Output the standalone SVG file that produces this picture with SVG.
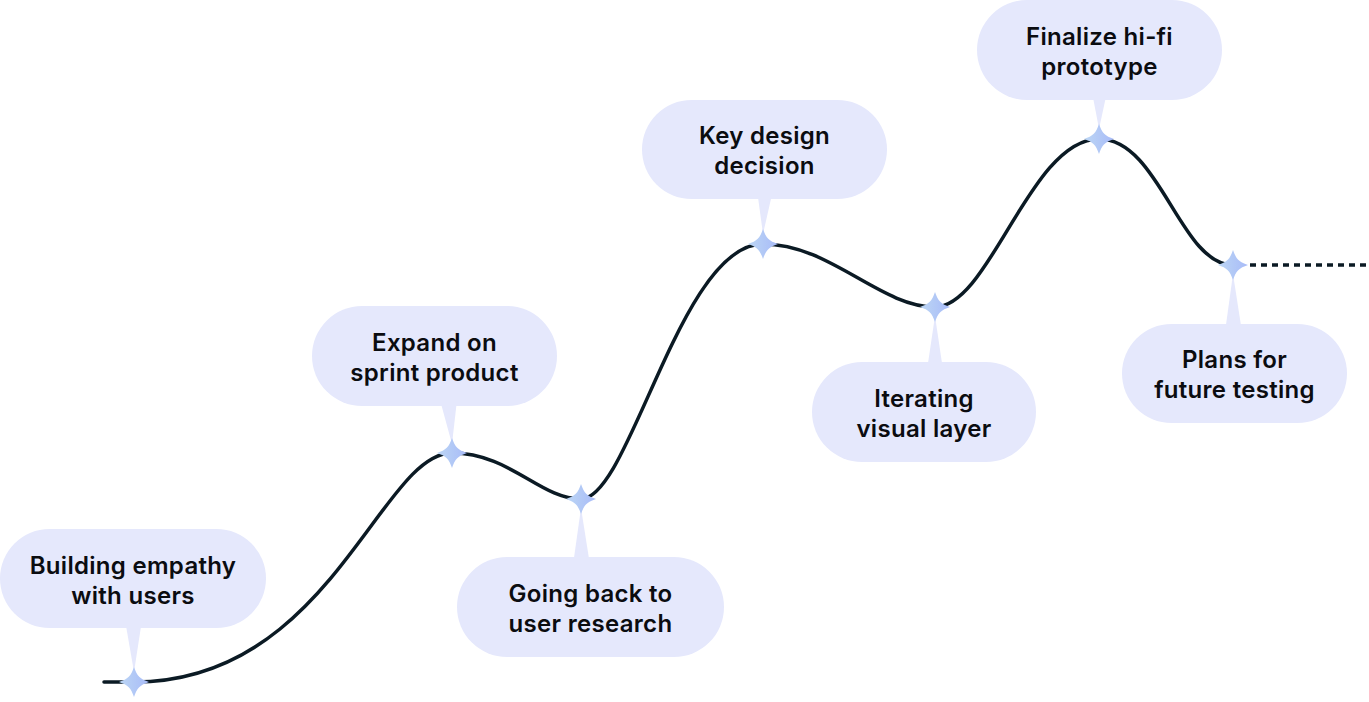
<svg xmlns="http://www.w3.org/2000/svg" width="1369" height="702" viewBox="0 0 1369 702">
  <defs>
    <linearGradient id="starGrad" x1="0" y1="0" x2="1" y2="0">
      <stop offset="0" stop-color="#bcd6f4"/>
      <stop offset="1" stop-color="#a8bbf8"/>
    </linearGradient>
    <path id="star" d="M0,-15 C3,-6 6,-3 15,0 C6,3 3,6 0,15 C-3,6 -6,3 -15,0 C-6,-3 -3,-6 0,-15Z"/>
    <style>
      .bubble { fill: #e5e8fc; }
      .label { font-family: Inter, "Noto Sans", "Liberation Sans", sans-serif; font-weight: 600; font-size: 24px; letter-spacing: 0.3px; fill: #0b0c10; text-anchor: middle; }
      .curve { fill: none; stroke: #0b1a24; stroke-width: 3.5; stroke-linecap: round; }
      .dotted { fill: none; stroke: #0b1a24; stroke-width: 3.5; stroke-dasharray: 6 5; }
      .spark { fill: url(#starGrad); }
    </style>
  </defs>
  <rect width="1369" height="702" fill="#ffffff"/>

  <g id="connectors">
    <path class="curve" d="M104,682 L134,682 C330,682 380,453 452,453 C510,453 540,499 581,499 C630,499 680,244 763,244 C830,244 880,307 935,307 C990,307 1030,139 1099,139 C1160,139 1180,265 1233,265"/>
    <path class="dotted" d="M1250,265 L1369,265"/>
  </g>

  <g id="node-building-empathy">
    <path class="bubble" d="M125,620 L142,620 L134,672 Z"/>
    <rect class="bubble" x="0" y="529" width="266" height="99" rx="49.5"/>
    <text class="label" x="133" y="574">Building empathy</text>
    <text class="label" x="133" y="604">with users</text>
    <use href="#star" class="spark" x="134" y="682"/>
  </g>

  <g id="node-expand-sprint">
    <path class="bubble" d="M440,400 L457,400 L452,444 Z"/>
    <rect class="bubble" x="312" y="306" width="245" height="100" rx="50"/>
    <text class="label" x="434.5" y="351">Expand on</text>
    <text class="label" x="434.5" y="381">sprint product</text>
    <use href="#star" class="spark" x="452" y="453"/>
  </g>

  <g id="node-going-back">
    <path class="bubble" d="M573,565 L590,565 L581,508 Z"/>
    <rect class="bubble" x="457" y="557" width="267" height="100" rx="50"/>
    <text class="label" x="590.5" y="602">Going back to</text>
    <text class="label" x="590.5" y="632">user research</text>
    <use href="#star" class="spark" x="581" y="499"/>
  </g>

  <g id="node-key-design">
    <path class="bubble" d="M757,190 L773,190 L763,234 Z"/>
    <rect class="bubble" x="642" y="100" width="245" height="99" rx="49.5"/>
    <text class="label" x="764.5" y="144">Key design</text>
    <text class="label" x="764.5" y="174">decision</text>
    <use href="#star" class="spark" x="763" y="244"/>
  </g>

  <g id="node-iterating-visual">
    <path class="bubble" d="M927,370 L943,370 L935,316 Z"/>
    <rect class="bubble" x="812" y="362" width="224" height="100" rx="50"/>
    <text class="label" x="924" y="407">Iterating</text>
    <text class="label" x="924" y="437">visual layer</text>
    <use href="#star" class="spark" x="935" y="307"/>
  </g>

  <g id="node-finalize-prototype">
    <path class="bubble" d="M1092,92 L1107,92 L1099,129 Z"/>
    <rect class="bubble" x="977" y="0" width="245" height="100" rx="50"/>
    <text class="label" x="1099.5" y="45">Finalize hi-fi</text>
    <text class="label" x="1099.5" y="75">prototype</text>
    <use href="#star" class="spark" x="1099" y="139"/>
  </g>

  <g id="node-plans-future">
    <path class="bubble" d="M1225,332 L1242,332 L1233,274 Z"/>
    <rect class="bubble" x="1122" y="324" width="225" height="99" rx="49.5"/>
    <text class="label" x="1234.5" y="368">Plans for</text>
    <text class="label" x="1234.5" y="398">future testing</text>
    <use href="#star" class="spark" x="1233" y="265"/>
  </g>
</svg>
